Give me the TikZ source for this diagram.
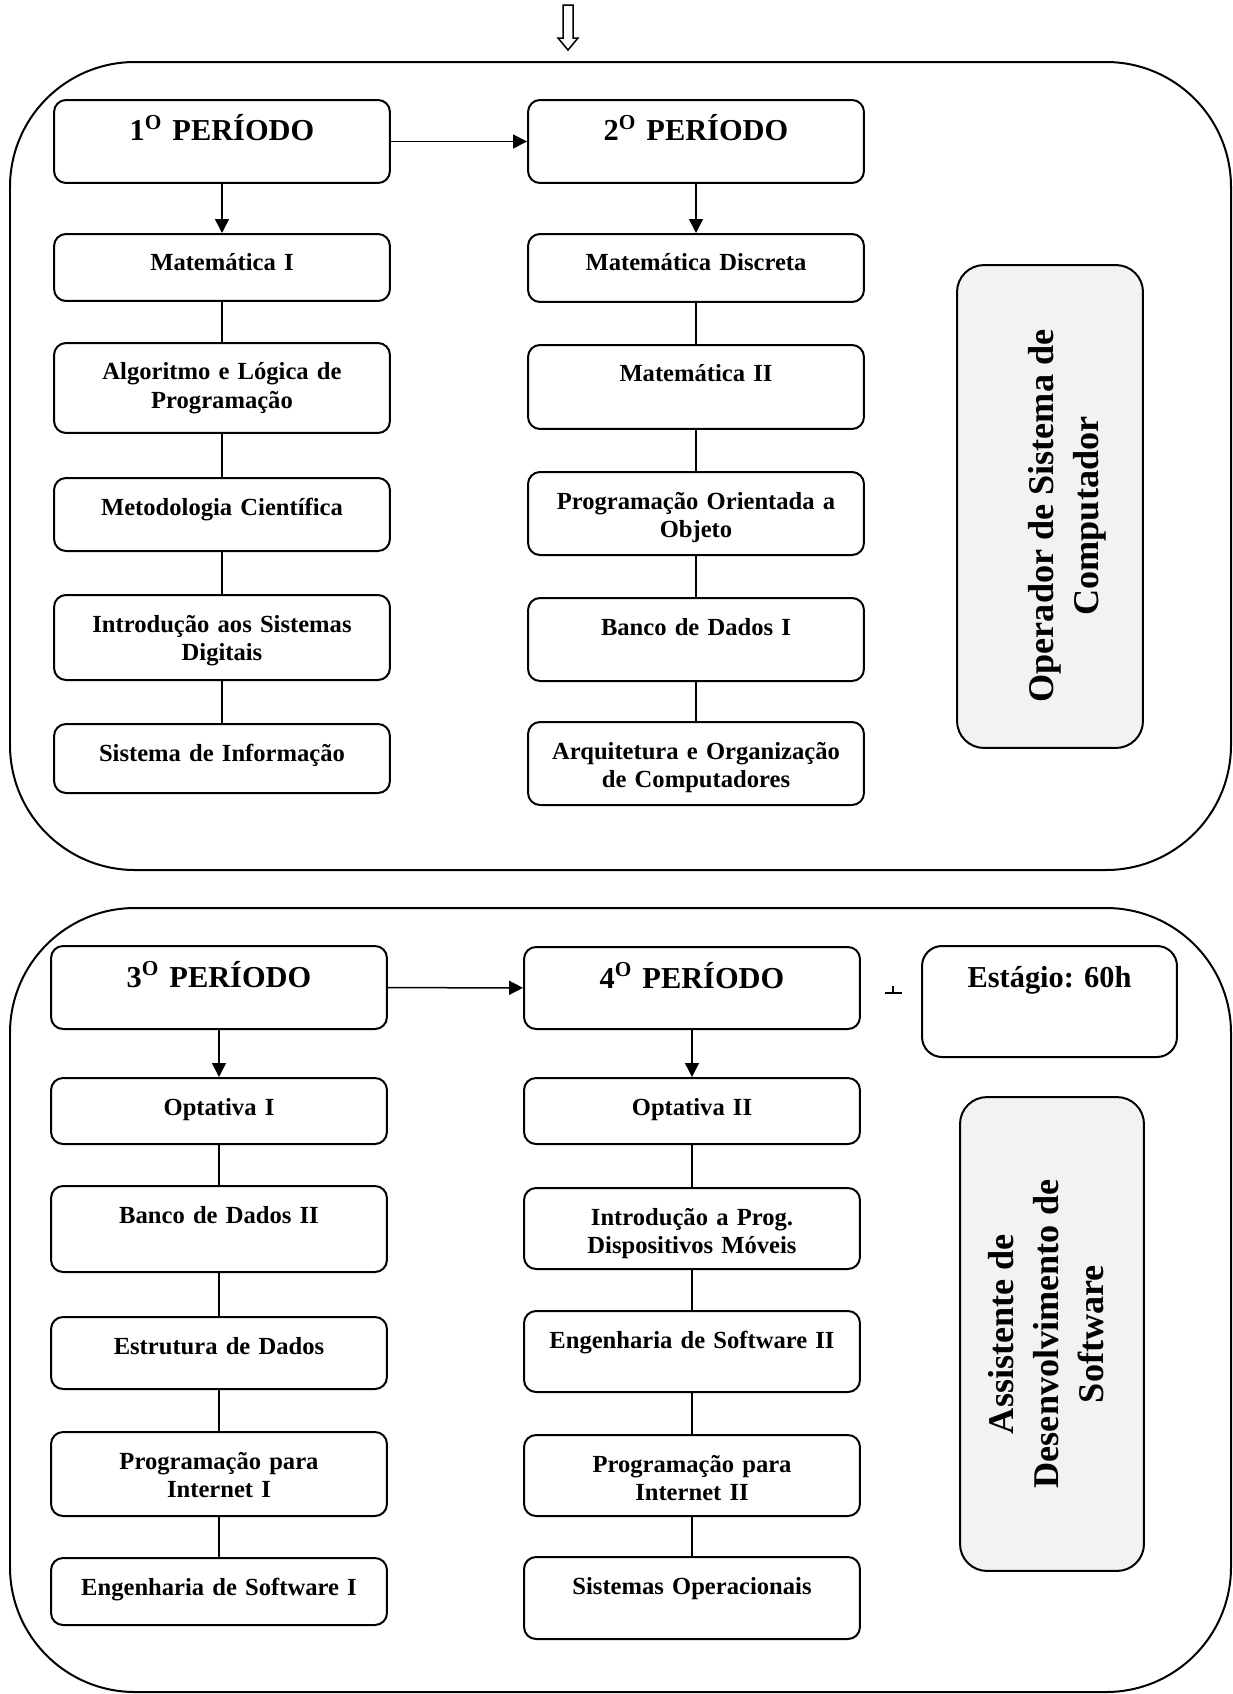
\documentclass[tikz,border=0pt]{standalone}
\usepackage{fontspec}
\setmainfont{Liberation Serif}
\usepackage{tikz}
\usetikzlibrary{arrows.meta}
\definecolor{rolegray}{HTML}{F2F2F2}
\frenchspacing

\begin{document}
\begin{tikzpicture}[x=0.02cm,y=-0.02cm,
    box/.style={draw,line width=0.04cm,rounded corners=0.24cm,anchor=north,
      inner sep=0pt,text width=6.72cm,align=center},
    disc/.style={box,font=\fontsize{14}{16.2}\selectfont\bfseries,
      text height=0.74cm,text depth={(#1-37)*0.02cm}},
    period/.style={box,font=\fontsize{17.3}{20}\selectfont\bfseries,
      text height=0.82cm,text depth={(#1-41)*0.02cm}},
    role/.style={draw,line width=0.04cm,rounded corners=0.54cm,fill=rolegray,inner sep=0pt},
    roletext/.style={rotate=90,align=center,font=\fontsize{20.6}{25.8}\selectfont\bfseries},
    frame/.style={draw,line width=0.04cm,rounded corners=2.5cm},
    flow/.style={line width=0.03cm,-{Triangle[length=0.28cm,width=0.28cm]}},
    link/.style={line width=0.03cm}]
  \useasboundingbox (0,0) rectangle (1233,1694);
  % hollow arrow from above
  \draw[line width=0.03cm] (563,5) -- (573,5) -- (573,38) -- (578,38) -- (568,50)
    -- (558,38) -- (563,38) -- cycle;

  % 1st and 2nd period
  \draw[frame] (10,62) rectangle (1231,870);
  \node[period=83] (p1) at (222,99) {1\textsuperscript{O} PERÍODO};
  \node[period=83] (p2) at (696,99) {2\textsuperscript{O} PERÍODO};
  \node[disc=67] (mat1) at (222,233) {Matemática I};
  \node[disc=90] (alg) at (222,342) {Algoritmo e Lógica de\\Programação};
  \node[disc=73] (met) at (222,477) {Metodologia Científica};
  \node[disc=85] (isd) at (222,594) {Introdução aos Sistemas\\Digitais};
  \node[disc=69] (sinf) at (222,723) {Sistema de Informação};
  \node[disc=68] (mdisc) at (696,233) {Matemática Discreta};
  \node[disc=84] (mat2) at (696,344) {Matemática II};
  \node[disc=83] (poo) at (696,471) {Programação Orientada a\\Objeto};
  \node[disc=83] (bd1) at (696,597) {Banco de Dados I};
  \node[disc=83] (aoc) at (696,721) {Arquitetura e Organização\\de Computadores};
  \node[role,minimum width=3.72cm,minimum height=9.66cm] (g1) at (1050,506.5) {};
  \node[roletext] (g1t) at (1067,516) {Operador de Sistema de\\Computador};
  \draw[flow] (p1) -- (p2);
  \draw[flow] (p1) -- (mat1);
  \draw[flow] (p2) -- (mdisc);
  \draw[link] (mat1) -- (alg) (alg) -- (met) (met) -- (isd) (isd) -- (sinf);
  \draw[link] (mdisc) -- (mat2) (mat2) -- (poo) (poo) -- (bd1) (bd1) -- (aoc);

  % 3rd and 4th period
  \draw[frame] (10,908) rectangle (1231,1692);
  \node[period=83] (p3) at (219,945) {3\textsuperscript{O} PERÍODO};
  \node[period=82] (p4) at (692,946) {4\textsuperscript{O} PERÍODO};
  \node[period=111,text width=5.1cm,rounded corners=0.4cm] (est) at (1049.5,945) {Estágio: 60h};
  \draw[link] (885,993) -- (902,993) (893,986) -- (893,993);
  \node[disc=66] (opt1) at (219,1077) {Optativa I};
  \node[disc=86] (bd2) at (219,1185) {Banco de Dados II};
  \node[disc=72] (ed) at (219,1316) {Estrutura de Dados};
  \node[disc=84] (pi1) at (219,1431) {Programação para\\Internet I};
  \node[disc=67] (es1) at (219,1557) {Engenharia de Software I};
  \node[disc=66] (opt2) at (692,1077) {Optativa II};
  \node[disc=81] (ipdm) at (692,1187) {Introdução a Prog.\\Dispositivos Móveis};
  \node[disc=81] (es2) at (692,1310) {Engenharia de Software II};
  \node[disc=81] (pi2) at (692,1434) {Programação para\\Internet II};
  \node[disc=82] (so) at (692,1556) {Sistemas Operacionais};
  \node[role,minimum width=3.68cm,minimum height=9.48cm] (g2) at (1052,1334) {};
  \node[roletext] (g2t) at (1046,1334) {Assistente de\\Desenvolvimento de\\Software};
  \draw[flow] (p3) -- (p4);
  \draw[flow] (p3) -- (opt1);
  \draw[flow] (p4) -- (opt2);
  \draw[link] (opt1) -- (bd2) (bd2) -- (ed) (ed) -- (pi1) (pi1) -- (es1);
  \draw[link] (opt2) -- (ipdm) (ipdm) -- (es2) (es2) -- (pi2) (pi2) -- (so);
\end{tikzpicture}
\end{document}
